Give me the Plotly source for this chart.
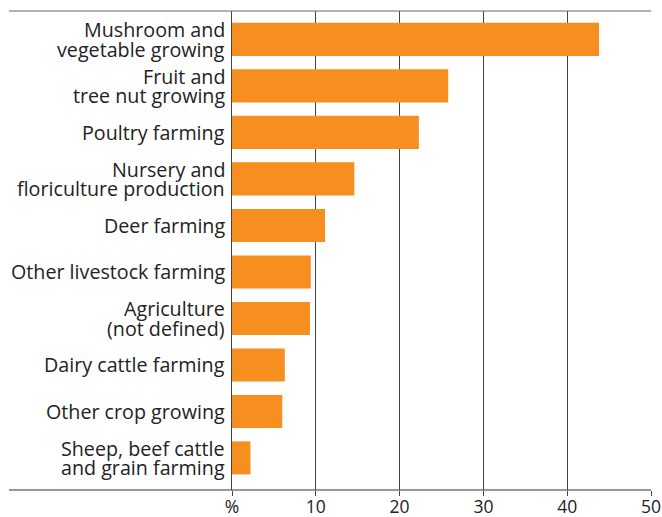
import plotly.graph_objects as go

categories = [
    "Mushroom and<br>vegetable growing",
    "Fruit and<br>tree nut growing",
    "Poultry farming",
    "Nursery and<br>floriculture production",
    "Deer farming",
    "Other livestock farming",
    "Agriculture<br>(not defined)",
    "Dairy cattle farming",
    "Other crop growing",
    "Sheep, beef cattle<br>and grain farming",
]
values = [43.8, 25.8, 22.3, 14.6, 11.1, 9.4, 9.3, 6.3, 6.0, 2.2]
x_tickvals = [0, 10, 20, 30, 40, 50]
x_ticktext = ["%", "10", "20", "30", "40", "50"]

FONT = "Open Sans"
TXT = "#222222"

W, H = 662, 517
L, R, T, B = 232, 11, 11, 27

fig = go.Figure(go.Bar(
    x=values, y=categories, orientation="h",
    marker=dict(color="#F68E20", line=dict(width=0)),
    width=0.71,
))

fig.update_layout(
    width=W, height=H,
    margin=dict(l=L, r=R, t=T, b=B, autoexpand=False),
    paper_bgcolor="white", plot_bgcolor="white",
    showlegend=False,
    font=dict(family=FONT, size=18, color=TXT),
)
fig.update_xaxes(
    range=[0, 50], tickvals=x_tickvals, ticktext=x_ticktext,
    showgrid=True, gridcolor="#444444", gridwidth=1,
    zeroline=False, showline=False, automargin=False,
    ticks="outside", ticklen=5, tickcolor="#444444",
    ticklabelstandoff=-4,
    tickfont=dict(family=FONT, size=17.5, color=TXT),
    fixedrange=True,
)
fig.update_yaxes(
    type="category", categoryorder="array", categoryarray=categories,
    range=[9.69, -0.61], automargin=False,
    showgrid=False, zeroline=False,
    showline=True, linecolor="#444444", linewidth=1,
    ticks="", showticklabels=False,
)

# category labels with tight leading
LEAD = 19.5
for cat in categories:
    lines = cat.split("<br>")
    n = len(lines)
    for i, line in enumerate(lines):
        shift = ((n - 1) / 2 - i) * LEAD
        fig.add_annotation(
            x=0, xref="paper", y=cat, yref="y",
            text=line, showarrow=False, borderpad=0,
            xanchor="right", yanchor="middle", xshift=-6, yshift=shift,
            font=dict(family=FONT, size=19.7, color=TXT),
        )

# top and bottom rules spanning full width
pw = W - L - R
x0p = (9 - L) / pw
for yv, col in [(1, "#666666"), (0, "#333333")]:
    fig.add_shape(type="line", xref="paper", yref="paper",
                  x0=x0p, x1=1, y0=yv, y1=yv,
                  line=dict(color=col, width=1.2))

fig.write_html(
    "out.html",
    config={"displayModeBar": False, "staticPlot": True},
    post_script="document.body.style.margin='0';document.body.style.overflow='hidden';",
)
